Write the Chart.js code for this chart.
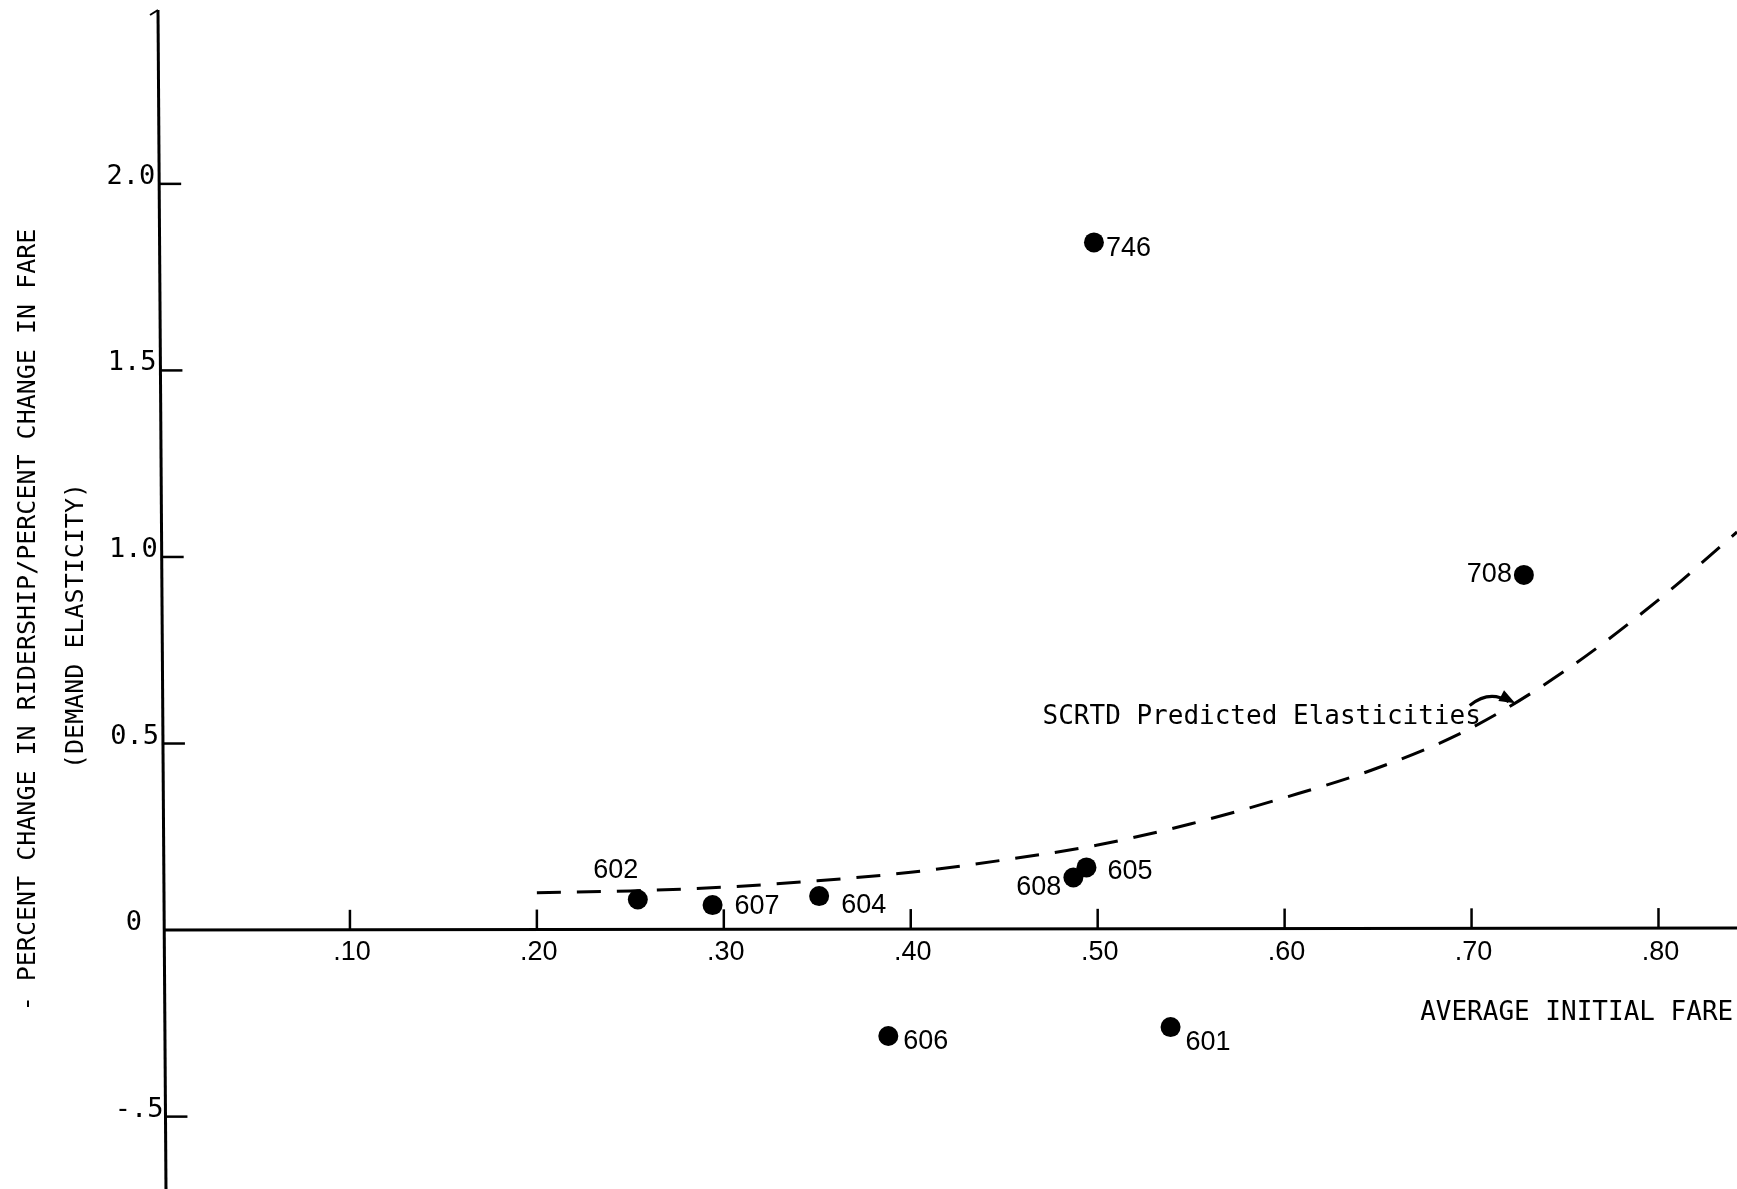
<!DOCTYPE html>
<html lang="en">
  <head>
    <meta charset="UTF-8" />
    <title>Demand Elasticity vs Average Initial Fare</title>
    <script src="https://cdn.jsdelivr.net/npm/chart.js"></script>
    <style>
      body {
        margin: 0;
        padding: 0;
        background: white;
      }
      #chart {
        display: block;
      }
    </style>
  </head>
  <body>
    <canvas id="chart" width="1737" height="1189"></canvas>

    <script>
      // observed routes
      const routeLabels = ["746", "708", "602", "607", "604", "606", "608", "605", "601"];
      const fares = [0.498, 0.728, 0.254, 0.294, 0.351, 0.388, 0.487, 0.494, 0.539];
      const elasticities = [1.843, 0.952, 0.082, 0.067, 0.091, -0.284, 0.141, 0.168, -0.26];

      // SCRTD predicted curve
      const curveFares = [0.2, 0.25, 0.3, 0.35, 0.4, 0.45, 0.5, 0.55, 0.6, 0.65, 0.7, 0.75, 0.8, 0.842];
      const curveElasticities = [0.1, 0.105, 0.115, 0.132, 0.155, 0.188, 0.228, 0.285, 0.355, 0.435, 0.542, 0.695, 0.885, 1.067];

      const xTicks = [0.1, 0.2, 0.3, 0.4, 0.5, 0.6, 0.7, 0.8];
      const xTickLabels = [".10", ".20", ".30", ".40", ".50", ".60", ".70", ".80"];
      const yTicks = [2.0, 1.5, 1.0, 0.5, 0, -0.5];
      const yTickLabels = ["2.0", "1.5", "1.0", "0.5", "0", "-.5"];

      const yTitle = "- PERCENT CHANGE IN RIDERSHIP/PERCENT CHANGE IN FARE";
      const yTitle2 = "(DEMAND ELASTICITY)";
      const xTitle = "AVERAGE INITIAL FARE";
      const curveNote = "SCRTD Predicted Elasticities";

      // where each route number sits next to its dot
      const labelPlace = {
        746: { dx: 12, dy: 6, align: "left" },
        708: { dx: -12, dy: 0, align: "right" },
        602: { dx: -22, dy: -29, align: "center" },
        607: { dx: 22, dy: 1, align: "left" },
        604: { dx: 22, dy: 9, align: "left" },
        606: { dx: 15, dy: 6, align: "left" },
        608: { dx: -12, dy: 10, align: "right" },
        605: { dx: 21, dy: 4, align: "left" },
        601: { dx: 15, dy: 15, align: "left" },
      };

      const monoFont = '"DejaVu Sans Mono", monospace';
      const sansFont = '"Liberation Sans", Arial, sans-serif';

      const axesPlugin = {
        id: "axes",
        beforeDatasetsDraw(chart) {
          const ctx = chart.ctx;
          const xs = chart.scales.x;
          const ys = chart.scales.y;
          const x0 = xs.getPixelForValue(0);
          const y0 = ys.getPixelForValue(0);
          const area = chart.chartArea;

          ctx.save();
          ctx.strokeStyle = "#000";
          ctx.fillStyle = "#000";

          // y axis
          ctx.lineWidth = 3;
          ctx.beginPath();
          ctx.moveTo(x0 - 5, area.top);
          ctx.lineTo(x0 + 3, chart.height);
          ctx.stroke();
          ctx.lineWidth = 2;
          ctx.beginPath();
          ctx.moveTo(x0 - 13, area.top + 5);
          ctx.lineTo(x0 - 5, area.top);
          ctx.stroke();

          // x axis (at zero)
          ctx.lineWidth = 3;
          ctx.beginPath();
          ctx.moveTo(x0, y0);
          ctx.lineTo(area.right, y0 - 2);
          ctx.stroke();

          // y ticks
          ctx.lineWidth = 2.5;
          ctx.font = "27px " + monoFont;
          ctx.textBaseline = "middle";
          ctx.textAlign = "right";
          yTicks.forEach((v, i) => {
            const py = ys.getPixelForValue(v);
            const ax = x0 - 5 + (py - area.top) * (8 / chart.height);
            if (v !== 0) {
              ctx.beginPath();
              ctx.moveTo(ax, py);
              ctx.lineTo(ax + 22, py);
              ctx.stroke();
            }
            const right = v === 0 ? x0 - 21 : v < 0 ? ax - 2 : ax - 4;
            ctx.fillText(yTickLabels[i], right, py - 7);
          });

          // x ticks
          ctx.font = "27px " + sansFont;
          ctx.textAlign = "center";
          xTicks.forEach((v, i) => {
            const px = xs.getPixelForValue(v);
            const py = y0 - v * 2.5;
            ctx.beginPath();
            ctx.moveTo(px, py);
            ctx.lineTo(px, py - 20);
            ctx.stroke();
            ctx.fillText(xTickLabels[i], px + 2, y0 + 22);
          });

          // axis titles
          ctx.font = "26px " + monoFont;
          ctx.textAlign = "left";
          ctx.textBaseline = "alphabetic";
          ctx.fillText(xTitle, xs.getPixelForValue(0.6725), ys.getPixelForValue(-0.241));

          ctx.font = "25px " + monoFont;
          ctx.textAlign = "center";
          ctx.textBaseline = "middle";
          ctx.save();
          ctx.translate(28, 620);
          ctx.rotate(-Math.PI / 2);
          ctx.fillText(yTitle, 0, 0);
          ctx.restore();
          ctx.save();
          ctx.translate(76, 626);
          ctx.rotate(-Math.PI / 2);
          ctx.fillText(yTitle2, 0, 0);
          ctx.restore();

          ctx.restore();
        },
        afterDatasetsDraw(chart) {
          const ctx = chart.ctx;
          const xs = chart.scales.x;
          const ys = chart.scales.y;
          ctx.save();
          ctx.fillStyle = "#000";
          ctx.strokeStyle = "#000";

          // route numbers
          ctx.font = "27px " + sansFont;
          ctx.textBaseline = "middle";
          routeLabels.forEach((lab, i) => {
            const p = labelPlace[lab];
            ctx.textAlign = p.align;
            ctx.fillText(
              lab,
              xs.getPixelForValue(fares[i]) + p.dx,
              ys.getPixelForValue(elasticities[i]) + p.dy
            );
          });

          // curve note with curved arrow
          ctx.font = "26px " + monoFont;
          ctx.textAlign = "left";
          ctx.textBaseline = "alphabetic";
          ctx.fillText(curveNote, xs.getPixelForValue(0.4705), ys.getPixelForValue(0.552));

          const sx = xs.getPixelForValue(0.699);
          const sy = ys.getPixelForValue(0.602);
          const ex = xs.getPixelForValue(0.722);
          const ey = ys.getPixelForValue(0.612);
          const cx = sx + 20;
          const cy = sy - 16;
          ctx.lineWidth = 3;
          ctx.beginPath();
          ctx.moveTo(sx, sy);
          ctx.quadraticCurveTo(cx, cy, ex - 4, ey);
          ctx.stroke();
          const ang = Math.atan2(ey - cy, ex - cx);
          ctx.beginPath();
          ctx.moveTo(ex + 3 * Math.cos(ang), ey + 3 * Math.sin(ang));
          ctx.lineTo(ex - 13 * Math.cos(ang) + 6 * Math.sin(ang), ey - 13 * Math.sin(ang) - 6 * Math.cos(ang));
          ctx.lineTo(ex - 13 * Math.cos(ang) - 6 * Math.sin(ang), ey - 13 * Math.sin(ang) + 6 * Math.cos(ang));
          ctx.closePath();
          ctx.fill();

          ctx.restore();
        },
      };

      const ctx = document.getElementById("chart").getContext("2d");

      const chart = new Chart(ctx, {
        type: "scatter",
        data: {
          datasets: [
            {
              label: "Routes",
              data: fares.map((f, i) => ({ x: f, y: elasticities[i] })),
              backgroundColor: "#000",
              borderWidth: 0,
              pointRadius: 10,
              showLine: false,
            },
            {
              label: "SCRTD Predicted",
              data: curveFares.map((f, i) => ({ x: f, y: curveElasticities[i] })),
              showLine: true,
              borderColor: "#000",
              borderWidth: 3,
              borderDash: [24, 16],
              pointRadius: 0,
              cubicInterpolationMode: "monotone",
              fill: false,
            },
          ],
        },
        options: {
          responsive: false,
          animation: false,
          layout: {
            autoPadding: false,
            padding: { left: 163, top: 10, right: 0, bottom: 0 },
          },
          scales: {
            x: { type: "linear", min: 0, max: 0.842, display: false },
            y: { type: "linear", min: -0.694, max: 2.466, display: false },
          },
          plugins: {
            legend: { display: false },
            tooltip: { enabled: false },
          },
        },
        plugins: [axesPlugin],
      });
    </script>
  </body>
</html>
